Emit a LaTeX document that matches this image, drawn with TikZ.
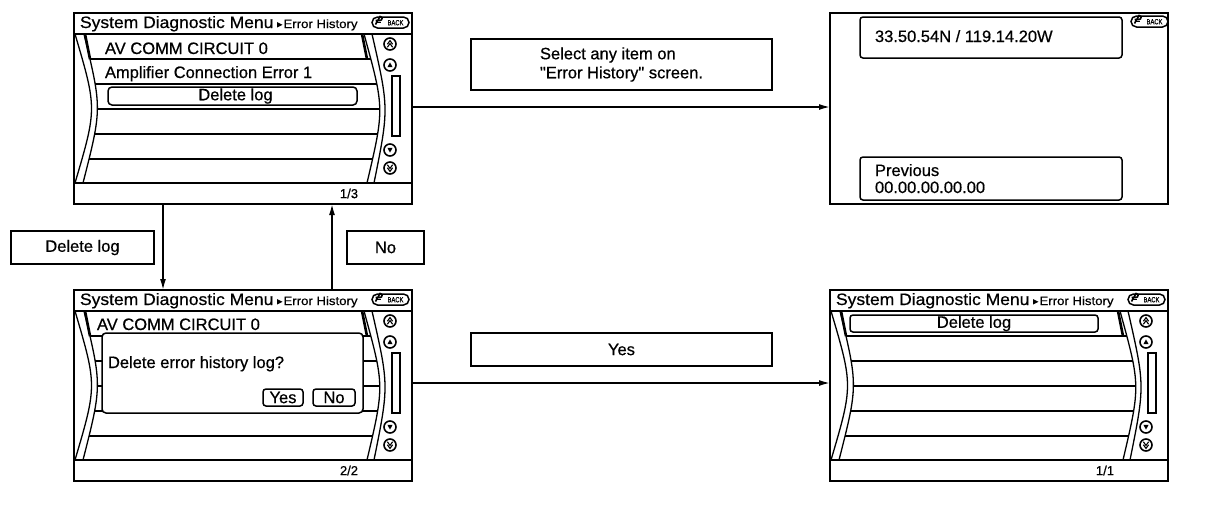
\documentclass[tikz,border=0pt]{standalone}
\usepackage{graphicx}
\usepackage{fontspec}
\setmainfont{Liberation Sans}[Ligatures=TeXOff, FakeBold=0.6]
\usetikzlibrary{arrows.meta,calc}
\tikzset{
  scr/.style={draw, line width=2pt, minimum width=338pt, minimum height=191pt, inner sep=0pt, outer sep=0pt, anchor=north west},
  lbl/.style={draw, line width=1.8pt, inner sep=0pt, outer sep=0pt, font=\fontsize{16.5}{19}\selectfont},
  btn/.style={draw, line width=1.5pt, rounded corners=3pt, inner sep=0pt, outer sep=0pt, fill=white, font=\fontsize{16.5}{19}\selectfont},
  txt/.style={inner sep=0pt, outer sep=0pt, anchor=base west, font=\fontsize{16.5}{19}\selectfont},
  pagetxt/.style={inner sep=0pt, font=\fontsize{13}{14}\selectfont},
  rowline/.style={line width=1.3pt},
  hl/.style={line width=2.6pt},
  curve/.style={line width=1.3pt},
  icon/.style={line width=1.6pt},
  flow/.style={line width=1.6pt, -{Latex[length=11pt,width=6pt]}},
}
% pill "BACK" button, origin = its left/top corner
\newcommand\backpill[3]{%
  \draw[line width=1.5pt, rounded corners=5.5pt] (#1,#2) rectangle ++(37,11);
  \draw[line width=1.6pt] (#1+3.5,#2+3.5) -- (#1+8,#2+3.5) arc[start angle=90,end angle=-90,radius=2] -- (#1+3.5,#2+7.5);
  \draw[line width=1pt] (#1+3.5,#2+5.5) -- (#1+8.5,#2+5.5);
  \node[inner sep=0pt, font=\fontsize{7.5}{7.5}\selectfont] (#3) at (#1+23.5,#2+5.7) {\scalebox{0.78}[1]{BACK}};
}
\newcommand\updown[3]{% x, y, dir (1 up, -1 down)
  \draw[icon] (#1,#2) circle[radius=6];
  \fill (#1-2.6,#2+2.2*#3) -- (#1,#2-2.6*#3) -- (#1+2.6,#2+2.2*#3) -- cycle;
}
\newcommand\updowndouble[3]{%
  \draw[icon] (#1,#2) circle[radius=6];
  \draw[line width=1.1pt] (#1-2.6,#2+0.2*#3) -- (#1,#2-3.4*#3) -- (#1+2.6,#2+0.2*#3);
  \draw[line width=1.1pt] (#1-2.6,#2+3.2*#3) -- (#1,#2-0.4*#3) -- (#1+2.6,#2+3.2*#3);
}
% common screen frame, relative coordinates
\newcommand\scrframe[1]{%
  \draw[line width=1.4pt] (0,21) -- (338,21);
  \draw[line width=1.4pt] (0,170) -- (338,170);
  \node[txt] (#1-title) at (6,15) {\scalebox{1.06}[1]{System Diagnostic Menu}};
  \fill (203,9) -- (208.5,11.8) -- (203,14.5) -- cycle;
  \node[txt, font=\fontsize{12}{12}\selectfont] (#1-sub) at (209.5,15) {\scalebox{1.1}[1]{Error History}};
  \backpill{298}{4}{#1-back}
  \draw[curve] (1,21) .. controls (23,95.5) .. (1,170);
  \draw[curve] (10,21) .. controls (28,95.5) .. (9,170);
  \draw[curve] (290,21) .. controls (310.5,95.5) .. (293,170);
  \draw[curve] (298,21) .. controls (315,95.5) .. (300,170);
  \begin{scope}
    \clip (10,21) .. controls (28,95.5) .. (9,170) -- (293,170) .. controls (310.5,95.5) .. (290,21) -- cycle;
    \foreach \yy in {71,96,121,146} \draw[rowline] (0,\yy) -- (338,\yy);
    \draw[hl] (0,46) -- (338,46);
  \end{scope}
  \draw[hl] (11,21) -- (16,46);
  \draw[hl] (288,21) -- (293,46);
  \updowndouble{316}{31}{1}
  \updown{316}{52}{1}
  \draw[line width=1.4pt] (318,63) rectangle (326,123);
  \updown{316}{137}{-1}
  \updowndouble{316}{155}{-1}
}
\begin{document}
\begin{tikzpicture}[x=1pt,y=-1pt]
  \fill[white] (0,0) rectangle (1216,512);
  \useasboundingbox (0,0) rectangle (1216,512);

  % screens
  \node[scr] (s1) at (74,13) {};
  \node[scr] (s2) at (74,290) {};
  \node[scr] (s3) at (830,13) {};
  \node[scr] (s4) at (830,290) {};

  % screen 1
  \begin{scope}[shift={(s1.north west)}]
    \scrframe{s1}
    \node[txt] (s1-r1) at (31,41) {AV COMM CIRCUIT 0};
    \node[txt] (s1-r2) at (31,65) {Amplifier Connection Error 1};
    \node[btn, rounded corners=4pt, minimum width=249pt, minimum height=18pt] (s1-del) at (158.5,83) {\hspace*{6pt}Delete log};
    \node[pagetxt] (s1-page) at (275,180.5) {1/3};
  \end{scope}

  % screen 2
  \begin{scope}[shift={(s2.north west)}]
    \scrframe{s2}
    \node[txt] (s2-r1) at (23,40) {AV COMM CIRCUIT 0};
    \node[btn, rounded corners=4pt, minimum width=261pt, minimum height=80pt] (s2-dlg) at (158.5,83) {};
    \node[txt] (s2-q) at (34,78) {Delete error history log?};
    \node[btn, minimum width=40pt, minimum height=17pt] (s2-yes) at (209,107.5) {Yes};
    \node[btn, minimum width=42pt, minimum height=17pt] (s2-no) at (260,107.5) {No};
    \node[pagetxt] (s2-page) at (275,180.5) {2/2};
  \end{scope}

  % screen 3
  \begin{scope}[shift={(s3.north west)}]
    \node[btn, minimum width=262pt, minimum height=41pt] (s3-pos) at (161,24.5) {};
    \node[txt] (s3-pt) at (45,29) {33.50.54N / 119.14.20W};
    \node[btn, minimum width=262pt, minimum height=43pt] (s3-prev) at (161,165.5) {};
    \node[txt] (s3-p1) at (45,163) {Previous};
    \node[txt] (s3-p2) at (45,180) {00.00.00.00.00};
    \backpill{301}{3}{s3-back}
  \end{scope}

  % screen 4
  \begin{scope}[shift={(s4.north west)}]
    \scrframe{s4}
    \node[btn, minimum width=248pt, minimum height=17pt] (s4-del) at (144,33.5) {Delete log};
    \node[pagetxt] (s4-page) at (275,180.5) {1/1};
  \end{scope}

  % labels
  \node[lbl, minimum width=301pt, minimum height=51pt, align=left] (lsel) at (621.5,64.5) {Select any item on\\"Error History" screen.};
  \node[lbl, minimum width=301pt, minimum height=33pt] (lyes) at (621.5,349.5) {Yes};
  \node[lbl, minimum width=143pt, minimum height=33pt] (ldel) at (82.5,247.5) {Delete log};
  \node[lbl, minimum width=77pt, minimum height=33pt] (lno) at (385.5,247.5) {No};

  % connectors
  \draw[flow] ([xshift=89pt]s1.south west) -- ([xshift=89pt]s2.north west);
  \draw[flow] ([xshift=258pt]s2.north west) -- ([xshift=258pt]s1.south west);
  \draw[flow] ([yshift=-94pt]s1.north east) -- ([yshift=-94pt]s3.north west);
  \draw[flow] ([yshift=-93pt]s2.north east) -- ([yshift=-93pt]s4.north west);
\end{tikzpicture}
\end{document}
